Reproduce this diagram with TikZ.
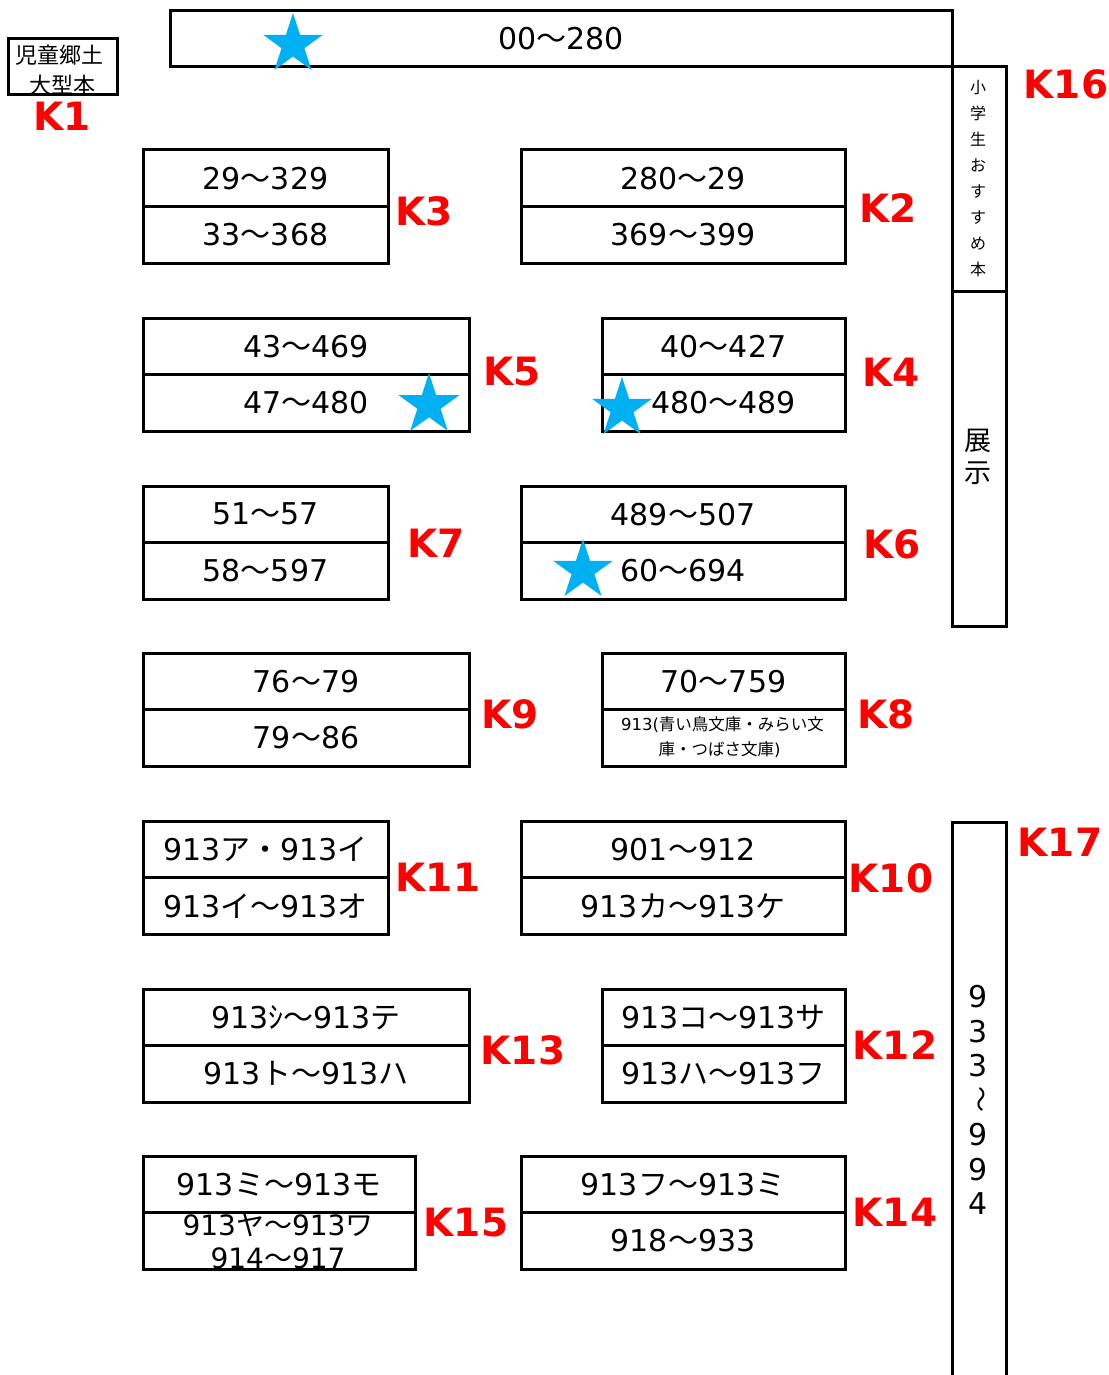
\documentclass[tikz,border=0pt]{standalone}
\usepackage{fontspec}
\setmainfont{DejaVu Sans}
\newfontfamily\jpf{Noto Sans CJK JP}
\newcommand\jtxt[1]{{\jpf #1}}
\newcommand\kara{{\jpf ～}}
\usetikzlibrary{shapes.geometric}
\definecolor{starblue}{HTML}{00B0F0}
\definecolor{lblred}{HTML}{FF0000}
\tikzset{
  shelf/.style={draw, line width=3pt, anchor=north west, minimum height=113pt, inner sep=0pt, outer sep=0pt},
  plainbox/.style={draw, line width=3pt, anchor=north west, inner sep=0pt, outer sep=0pt},
  divline/.style={line width=3pt},
  txt/.style={font=\fontsize{30}{36}\selectfont, inner sep=0pt},
  smalltxt/.style={font=\fontsize{16.5}{20}\selectfont, inner sep=0pt},
  vtxt/.style={font=\jpf\fontsize{16}{20}\selectfont, inner sep=0pt},
  lbl/.style={font=\fontsize{39}{44}\selectfont\bfseries, text=lblred, inner sep=0pt},
  bluestar/.style={star, star points=5, star point ratio=2.618, fill=starblue, draw=none, inner sep=0pt, outer sep=0pt},
}
\newcommand\shelf[4]{%
  \node[shelf, minimum width=#4pt] (#1) at (#2,#3) {};
  \draw[divline] (#1.west) -- (#1.east);}
\begin{document}
\begin{tikzpicture}[x=1pt,y=-1pt]
\useasboundingbox (0,0) rectangle (1108,1375);

% top box and K16 / K17
\node[plainbox, minimum width=782pt, minimum height=56pt] (top) at (170,11) {};
\node[plainbox, minimum width=54pt, minimum height=559pt] (k16) at (952,67) {};
\draw[divline] (952,291) -- (1006,291);
\draw[divline] (952,1380) |- (1006,822) -- (1006,1380);

% K1
\node[plainbox, minimum width=109pt, minimum height=56pt] (k1) at (8,39) {};

% shelves left column
\shelf{k3}{143}{150}{245}
\shelf{k5}{143}{318}{326}
\shelf{k7}{143}{486}{245}
\shelf{k9}{143}{653}{326}
\shelf{k11}{143}{821}{245}
\shelf{k13}{143}{989}{326}
\shelf{k15}{143}{1156}{272}
% shelves right column
\shelf{k2}{521}{150}{324}
\shelf{k4}{602}{318}{243}
\shelf{k6}{521}{486}{324}
\shelf{k8}{602}{653}{243}
\shelf{k10}{521}{821}{324}
\shelf{k12}{602}{989}{243}
\shelf{k14}{521}{1156}{324}

% texts
\node[txt] (ttop) at (561,39) {00\kara280};
\node[font=\jpf\fontsize{22}{26}\selectfont, inner sep=0pt] (k1a) at (59,55) {児童郷土};
\node[font=\jpf\fontsize{22}{26}\selectfont, inner sep=0pt] (k1b) at (62,85) {大型本};

\node[txt] (k3a) at (265.5,178.25) {29\kara329};
\node[txt] (k3b) at (265.5,234.75) {33\kara368};
\node[txt] (k2a) at (683,178.25) {280\kara29};
\node[txt] (k2b) at (683,234.75) {369\kara399};

\node[txt] (k5a) at (306,346.25) {43\kara469};
\node[txt] (k5b) at (306,402.75) {47\kara480};
\node[txt] (k4a) at (723.5,346.25) {40\kara427};
\node[txt] (k4b) at (723.5,402.75) {480\kara489};

\node[txt] (k7a) at (265.5,514.25) {51\kara57};
\node[txt] (k7b) at (265.5,570.75) {58\kara597};
\node[txt] (k6a) at (683,514.25) {489\kara507};
\node[txt] (k6b) at (683,570.75) {60\kara694};

\node[txt] (k9a) at (306,681.25) {76\kara79};
\node[txt] (k9b) at (306,737.75) {79\kara86};
\node[txt] (k8a) at (723.5,681.25) {70\kara759};
\node[smalltxt] (k8b) at (722.5,725) {913(\jtxt{青い鳥文庫・みらい文}};
\node[smalltxt] (k8c) at (719.5,750) {\jtxt{庫・つばさ文庫})};

\node[txt] (k11a) at (265.5,849.25) {913\jtxt{ア・}913\jtxt{イ}};
\node[txt] (k11b) at (265.5,905.75) {913\jtxt{イ}\kara913\jtxt{オ}};
\node[txt] (k10a) at (683,849.25) {901\kara912};
\node[txt] (k10b) at (683,905.75) {913\jtxt{カ}\kara913\jtxt{ケ}};

\node[txt] (k13a) at (306,1017.25) {913\jtxt{ｼ}\kara913\jtxt{テ}};
\node[txt] (k13b) at (306,1073.75) {913\jtxt{ト}\kara913\jtxt{ハ}};
\node[txt] (k12a) at (723.5,1017.25) {913\jtxt{コ}\kara913\jtxt{サ}};
\node[txt] (k12b) at (723.5,1073.75) {913\jtxt{ハ}\kara913\jtxt{フ}};

\node[txt] (k15a) at (279,1184.25) {913\jtxt{ミ}\kara913\jtxt{モ}};
\node[txt, font=\fontsize{28}{32}\selectfont] (k15b) at (278,1225) {913\jtxt{ヤ}\kara913\jtxt{ワ}};
\node[txt, font=\fontsize{28}{32}\selectfont] (k15c) at (278,1258) {914\kara917};
\node[txt] (k14a) at (683,1184.25) {913\jtxt{フ}\kara913\jtxt{ミ}};
\node[txt] (k14b) at (683,1240.75) {918\kara933};

% vertical texts
\foreach \c [count=\i] in {小,学,生,お,す,す,め,本}
  \node[vtxt] (k16c\i) at (978,{87.7+(\i-1)*25.9}) {\c};
\node[font=\jpf\fontsize{27}{30}\selectfont, inner sep=0pt] (ten) at (978,441) {展};
\node[font=\jpf\fontsize{27}{30}\selectfont, inner sep=0pt] (ji) at (978,473) {示};
\foreach \c [count=\i] in {9,3,3}
  \node[txt] (k17c\i) at (978,{997+(\i-1)*34.4}) {\c};
\node[font=\jpf\fontsize{26}{30}\selectfont, inner sep=0pt, rotate=-90] (k17w) at (978,1099) {～};
\foreach \c [count=\i] in {9,9,4}
  \node[txt] (k17d\i) at (978,{1135+(\i-1)*34.5}) {\c};

% labels
\node[lbl] (l1) at (62,116) {K1};
\node[lbl] (l3) at (424,211) {K3};
\node[lbl] (l2) at (888,208) {K2};
\node[lbl] (l5) at (512,372) {K5};
\node[lbl] (l4) at (891,372) {K4};
\node[lbl] (l7) at (436,543) {K7};
\node[lbl] (l6) at (892,544) {K6};
\node[lbl] (l9) at (510,714) {K9};
\node[lbl] (l8) at (886,714) {K8};
\node[lbl] (l11) at (438,877) {K11};
\node[lbl] (l10) at (891,878) {K10};
\node[lbl] (l13) at (523,1050) {K13};
\node[lbl] (l12) at (895,1045) {K12};
\node[lbl] (l15) at (466,1223) {K15};
\node[lbl] (l14) at (895,1212) {K14};
\node[lbl] (l16) at (1066,84) {K16};
\node[lbl] (l17) at (1060,842) {K17};

% stars
\node[bluestar, minimum size=63pt] (s1) at (293,44.5) {};
\node[bluestar, minimum size=64pt] (s2) at (429,405) {};
\node[bluestar, minimum size=63pt] (s3) at (622,408.5) {};
\node[bluestar, minimum size=63pt] (s4) at (583,570.5) {};
\end{tikzpicture}
\end{document}
